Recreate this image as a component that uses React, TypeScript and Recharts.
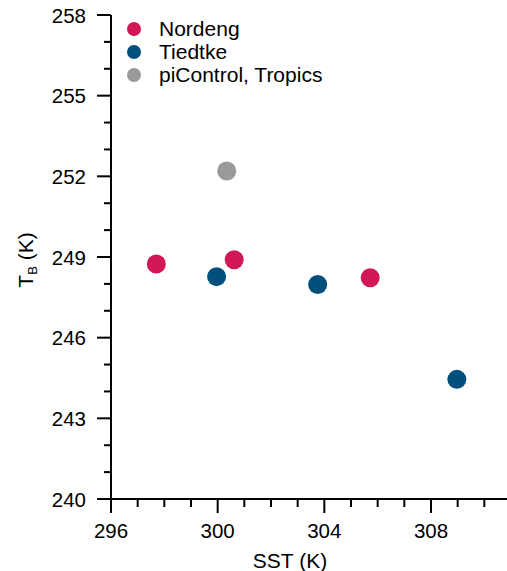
import { ScatterChart, Scatter, XAxis, YAxis } from 'recharts'

const nordengSst = [297.7, 300.62, 305.72]
const nordengTb = [248.74, 248.9, 248.23]
const tiedtkeSst = [299.96, 303.75, 308.97]
const tiedtkeTb = [248.27, 247.98, 244.45]
const piControlSst = [300.34]
const piControlTb = [252.2]

const xTicks = [296, 297, 298, 299, 300, 301, 302, 303, 304, 305, 306, 307, 308, 309, 310]
const xMajor = [296, 300, 304, 308]
const yTicks = [240, 241, 242, 243, 244, 245, 246, 247, 248, 249, 250, 251, 252, 253, 254, 255, 256, 257, 258]
const yMajor = [240, 243, 246, 249, 252, 255, 258]

const FONT = '"Liberation Sans", Arial, sans-serif'

const series = [
  { name: 'Nordeng', color: '#d21756', sst: nordengSst, tb: nordengTb },
  { name: 'Tiedtke', color: '#034f7b', sst: tiedtkeSst, tb: tiedtkeTb },
  { name: 'piControl, Tropics', color: '#9a9a9a', sst: piControlSst, tb: piControlTb },
]

function XTick({ x, y, payload }: any) {
  const major = xMajor.includes(payload.value)
  return (
    <g>
      <line x1={x} x2={x} y1={y} y2={y + (major ? 14 : 8)} stroke="#000" strokeWidth={2} />
      {major && (
        <text x={x} y={y + 39} textAnchor="middle" fontSize={20.5} fontFamily={FONT} fill="#000">
          {payload.value}
        </text>
      )}
    </g>
  )
}

function YTick({ x, y, payload }: any) {
  const major = yMajor.includes(payload.value)
  return (
    <g>
      <line x1={x - (major ? 14 : 7)} x2={x} y1={y} y2={y} stroke="#000" strokeWidth={2} />
      {major && (
        <text x={x - 25} y={y + 7.5} textAnchor="end" fontSize={20.5} fontFamily={FONT} fill="#000">
          {payload.value}
        </text>
      )}
    </g>
  )
}

function LegendBox() {
  return (
    <div style={{ position: 'absolute', left: 127, top: 17, fontFamily: FONT, fontSize: 21, color: '#000' }}>
      {series.map(s => (
        <div key={s.name} style={{ display: 'flex', alignItems: 'center', height: 23, whiteSpace: 'nowrap' }}>
          <div style={{ width: 14, height: 14, borderRadius: '50%', background: s.color, marginRight: 18 }} />
          <span>{s.name}</span>
        </div>
      ))}
    </div>
  )
}

export default function App() {
  return (
    <div style={{ position: 'absolute', left: 0, top: 0, width: 507, height: 571, background: '#fff' }}>
      <ScatterChart width={507} height={571} margin={{ top: 15, right: 0, bottom: 0, left: 0 }}>
        <XAxis
          type="number"
          dataKey="sst"
          domain={[296, 310.85]}
          ticks={xTicks}
          interval={0}
          allowDataOverflow
          height={72}
          tickSize={0}
          tickMargin={0}
          tickLine={false}
          tick={<XTick />}
          axisLine={{ stroke: '#000', strokeWidth: 2 }}
          label={{
            content: () => (
              <text x={290} y={568} textAnchor="middle" fontSize={21} fontFamily={FONT} fill="#000">
                SST (K)
              </text>
            ),
          }}
        />
        <YAxis
          type="number"
          dataKey="tb"
          domain={[240, 258]}
          ticks={yTicks}
          interval={0}
          allowDataOverflow
          width={111}
          tickSize={0}
          tickMargin={0}
          tickLine={false}
          tick={<YTick />}
          axisLine={{ stroke: '#000', strokeWidth: 2 }}
          label={{
            content: () => (
              <text
                transform="translate(33, 260) rotate(-90)"
                textAnchor="middle"
                fontSize={21}
                fontFamily={FONT}
                fill="#000"
              >
                T<tspan fontSize={13} dy={4}>B</tspan>
                <tspan dy={-4}> (K)</tspan>
              </text>
            ),
          }}
        />
        {series.map(s => (
          <Scatter
            key={s.name}
            name={s.name}
            data={s.sst.map((v, i) => ({ sst: v, tb: s.tb[i] }))}
            fill={s.color}
            isAnimationActive={false}
            shape={(p: any) => <circle cx={p.cx} cy={p.cy} r={9.5} fill={s.color} />}
          />
        ))}
      </ScatterChart>
      <LegendBox />
    </div>
  )
}
